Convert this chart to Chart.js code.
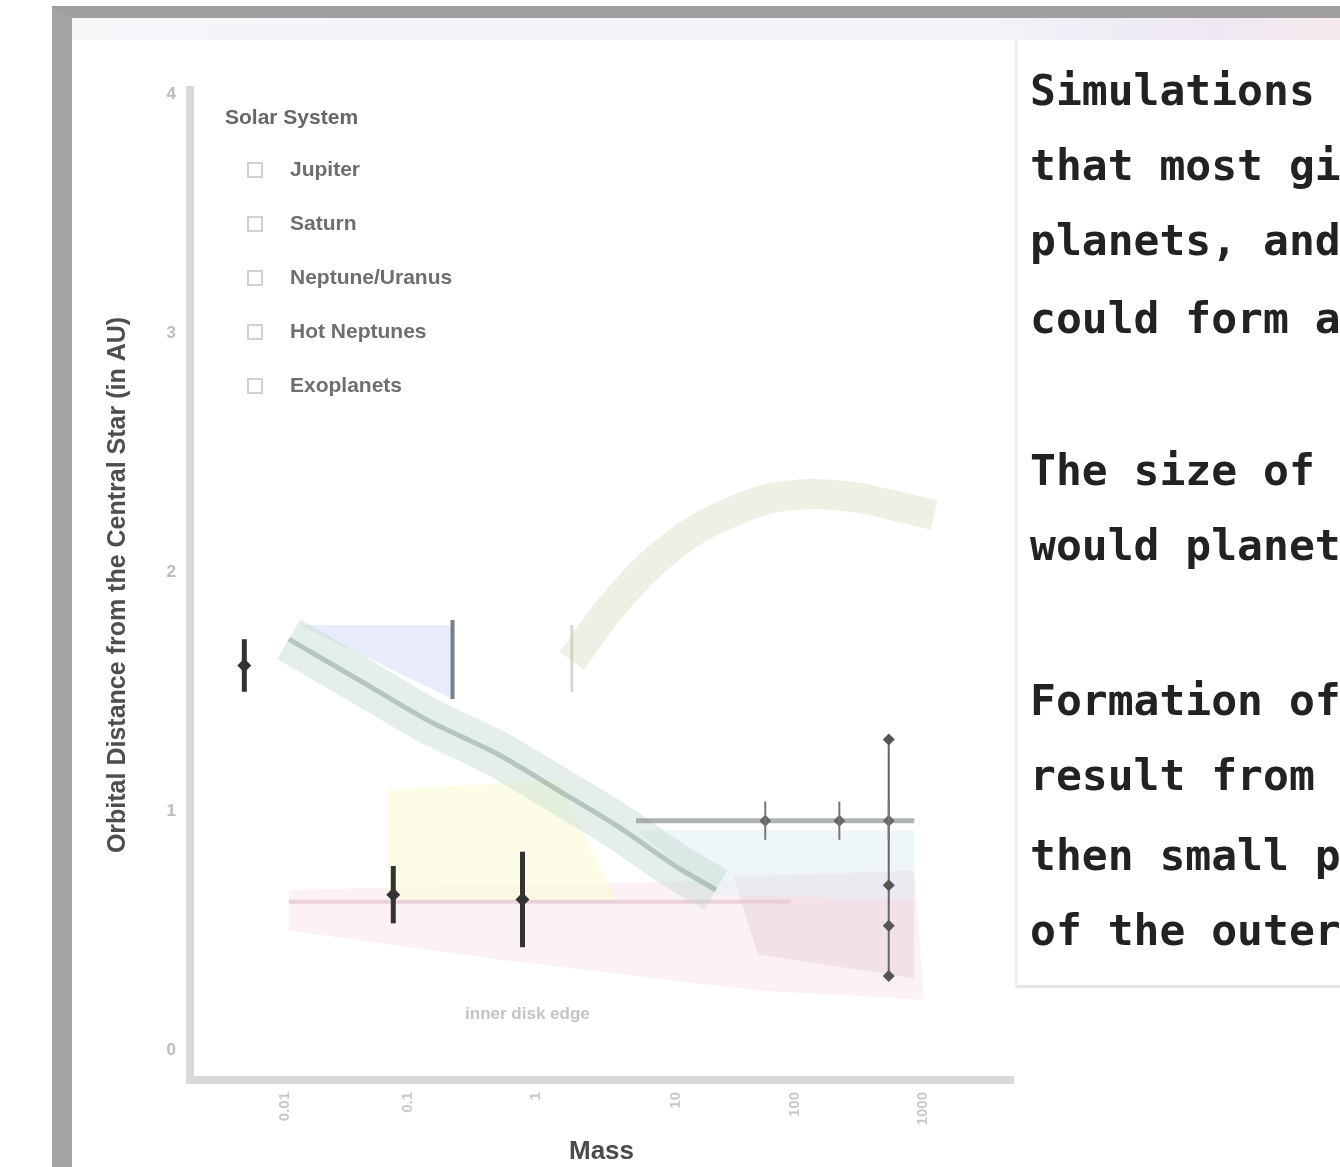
<!DOCTYPE html>
<html>
<head>
<meta charset="utf-8">
<script src="https://cdn.jsdelivr.net/npm/chart.js@4.4.0/dist/chart.umd.min.js"></script>
<style>
  body { margin: 0; width: 1340px; height: 1167px; overflow: hidden; background: #fff; position: relative; font-family: "Liberation Sans", sans-serif; }
  #frame { position: absolute; left: 52px; top: 6px; width: 1300px; height: 1200px; border-left: 20px solid #a3a3a3; border-top: 12px solid #9f9f9f; }
  #topband { position: absolute; left: 72px; top: 18px; width: 1270px; height: 22px; background: linear-gradient(to right, #f6f6f9, #f3f4f9 70%, #eee8f2 90%, #f5ebee); }
  #plot { position: absolute; left: 0; top: 0; }
  #notes { position: absolute; left: 1015px; top: 40px; width: 400px; height: 945px; border-left: 3px solid #efefef; border-bottom: 3px solid #e6e6e6; }
  #notes p { position: absolute; left: 12px; margin: 0; white-space: pre; font: bold 43px "DejaVu Sans Mono", monospace; color: #222; line-height: 50px; }
</style>
</head>
<body>
<div id="frame"></div>
<div id="topband"></div>
<canvas id="plot" width="1020" height="1167"></canvas>
<div id="notes"></div>
<script>
// axis ticks
const xTickValues = [1.15, 2.65, 4.2, 5.9, 7.35, 8.9];
const xTickLabels = ['0.01', '0.1', '1', '10', '100', '1000'];
const yTickValues = [0, 1, 2, 3, 4];
const yTickLabels = ['0', '1', '2', '3', '4'];

// legend
const legendTitle = 'Solar System';
const legendLabels = ['Jupiter', 'Saturn', 'Neptune/Uranus', 'Hot Neptunes', 'Exoplanets'];

// pale rising curve
const curveX = [4.64, 5.18, 5.90, 6.63, 7.23, 7.95, 8.55, 9.04];
const curveY = [1.63, 1.88, 2.12, 2.26, 2.32, 2.32, 2.28, 2.24];

// teal falling band
const bandX = [1.2, 2.05, 2.89, 3.73, 4.46, 5.18, 5.90, 6.39];
const bandY = [1.72, 1.55, 1.38, 1.24, 1.09, 0.94, 0.77, 0.67];

// blue triangle
const blueX = [1.33, 3.19, 3.19, 1.33];
const blueY = [1.78, 1.78, 1.47, 1.78];

// light blue box under the flat line
const iceX = [5.42, 8.80, 8.80, 6.39, 5.42];
const iceY = [0.92, 0.92, 0.63, 0.65, 0.92];

// yellow patch
const yellowX = [2.41, 4.46, 5.18, 2.41];
const yellowY = [1.09, 1.13, 0.63, 0.63];

// pink region
const pinkX = [1.2, 6.39, 8.8, 8.92, 6.87, 3.73, 1.2];
const pinkY = [0.67, 0.71, 0.75, 0.21, 0.25, 0.38, 0.50];
const pinkDarkX = [6.6, 8.8, 8.8, 6.9];
const pinkDarkY = [0.73, 0.75, 0.30, 0.40];

// flat line and its points
const flatX = [5.42, 8.80];
const flatY = [0.96, 0.96];
const flatPtsX = [6.99, 7.89, 8.49];
const flatPtsY = [0.96, 0.96, 0.96];

// vertical series at the right
const rightX = [8.49, 8.49, 8.49, 8.49];
const rightY = [1.30, 0.69, 0.52, 0.31];

// single measurements with errors
const ptX = [0.66, 2.47, 4.04];
const ptY = [1.61, 0.65, 0.63];
const ptErr = [0.11, 0.12, 0.20];

// annotation
const noteText = 'inner disk edge';
const noteX = 4.1;
const noteY = 0.13;

const textLines = [
  'Simulations s', 'that most gia', 'planets, and', 'could form a',
  '', 'The size of t', 'would planets',
  '', 'Formation of', 'result from a', 'then small pl', 'of the outer'
];
const textTops = [25, 100, 175, 253, 0, 405, 480, 0, 635, 710, 790, 865];

const notes = document.getElementById('notes');
textLines.forEach((t, i) => {
  if (!t) return;
  const p = document.createElement('p');
  p.textContent = t;
  p.style.top = textTops[i] + 'px';
  notes.appendChild(p);
});

function pts(xs, ys) { return xs.map((x, i) => ({ x: x, y: ys[i] })); }

const errorBars = {
  id: 'errorBars',
  afterDatasetsDraw(chart) {
    const ctx = chart.ctx, xs = chart.scales.x, ys = chart.scales.y;
    ctx.save();
    ctx.strokeStyle = '#333';
    ctx.lineWidth = 5;
    ptX.forEach((x, i) => {
      const px = xs.getPixelForValue(x);
      ctx.beginPath();
      ctx.moveTo(px, ys.getPixelForValue(ptY[i] - ptErr[i]));
      ctx.lineTo(px, ys.getPixelForValue(ptY[i] + ptErr[i]));
      ctx.stroke();
    });
    ctx.lineWidth = 2;
    ctx.strokeStyle = '#777';
    flatPtsX.forEach((x, i) => {
      const px = xs.getPixelForValue(x);
      ctx.beginPath();
      ctx.moveTo(px, ys.getPixelForValue(flatPtsY[i] - 0.08));
      ctx.lineTo(px, ys.getPixelForValue(flatPtsY[i] + 0.08));
      ctx.stroke();
    });
    ctx.fillStyle = '#c4c4c4';
    ctx.font = 'bold 17px "Liberation Sans"';
    ctx.textAlign = 'center';
    ctx.fillText(noteText, xs.getPixelForValue(noteX), ys.getPixelForValue(noteY));
    ctx.restore();
  }
};

const legendInside = {
  id: 'legendInside',
  afterDraw(chart) {
    const ctx = chart.ctx, a = chart.chartArea;
    ctx.save();
    ctx.textBaseline = 'middle';
    ctx.font = 'bold 21px "Liberation Sans"';
    ctx.fillStyle = '#666';
    ctx.fillText(legendTitle, a.left + 35, a.top + 28);
    legendLabels.forEach((t, i) => {
      const y = a.top + 80 + i * 54;
      ctx.strokeStyle = '#d0d0d0';
      ctx.lineWidth = 2;
      ctx.strokeRect(a.left + 58, y - 7, 14, 14);
      ctx.fillStyle = '#6e6e6e';
      ctx.fillText(t, a.left + 100, y);
    });
    ctx.restore();
  }
};

const datasets = [
  { data: pts(ptX, ptY), showLine: false, pointStyle: 'rectRot', pointRadius: 7, backgroundColor: '#333', borderWidth: 0 },
  { data: pts(rightX, rightY), showLine: true, borderColor: '#666', borderWidth: 2, pointStyle: 'rectRot', pointRadius: 6, pointBackgroundColor: '#555', pointBorderWidth: 0 },
  { data: pts(flatPtsX, flatPtsY), showLine: false, pointStyle: 'rectRot', pointRadius: 6, backgroundColor: '#666', borderWidth: 0 },
  { data: pts(flatX, flatY), showLine: true, borderColor: 'rgba(120,130,130,0.6)', borderWidth: 5, pointRadius: 0 },
  { data: [{ x: 3.19, y: 1.80 }, { x: 3.19, y: 1.47 }], showLine: true, borderColor: 'rgba(90,96,112,0.8)', borderWidth: 4, pointRadius: 0 },
  { data: pts(bandX, bandY), showLine: true, borderColor: 'rgba(130,160,150,0.5)', borderWidth: 5, pointRadius: 0, tension: 0.3 },
  { data: pts(bandX, bandY), showLine: true, borderColor: 'rgba(190,215,202,0.4)', borderWidth: 46, pointRadius: 0, tension: 0.3 },
  { data: [{ x: 4.64, y: 1.78 }, { x: 4.64, y: 1.50 }], showLine: true, borderColor: 'rgba(200,200,190,0.7)', borderWidth: 3, pointRadius: 0 },
  { data: pts(curveX, curveY), showLine: true, borderColor: 'rgba(228,228,212,0.6)', borderWidth: 30, pointRadius: 0, tension: 0.4 },
  { data: pts(blueX, blueY), showLine: true, borderWidth: 0, pointRadius: 0, fill: 'shape', backgroundColor: 'rgba(215,220,246,0.55)' },
  { data: pts(iceX, iceY), showLine: true, borderWidth: 0, pointRadius: 0, fill: 'shape', backgroundColor: 'rgba(228,240,245,0.6)' },
  { data: pts(yellowX, yellowY), showLine: true, borderWidth: 0, pointRadius: 0, fill: 'shape', backgroundColor: 'rgba(250,250,218,0.65)' },
  { data: pts(pinkDarkX, pinkDarkY), showLine: true, borderWidth: 0, pointRadius: 0, fill: 'shape', backgroundColor: 'rgba(230,205,216,0.45)' },
  { data: [{ x: 1.2, y: 0.62 }, { x: 7.3, y: 0.62 }], showLine: true, borderColor: 'rgba(222,185,198,0.6)', borderWidth: 4, pointRadius: 0 },
  { data: pts(pinkX, pinkY), showLine: true, borderWidth: 0, pointRadius: 0, fill: 'shape', backgroundColor: 'rgba(250,230,238,0.5)' }
];

new Chart(document.getElementById('plot'), {
  type: 'scatter',
  data: { datasets: datasets },
  options: {
    responsive: false,
    devicePixelRatio: 1,
    animation: false,
    layout: { padding: { left: 75, top: 90, right: 0, bottom: 0 } },
    plugins: { legend: { display: false }, tooltip: { enabled: false } },
    scales: {
      x: {
        type: 'linear', min: 0, max: 10,
        grid: { display: false, drawTicks: false },
        border: { color: '#d9d9d9', width: 8 },
        afterBuildTicks: s => { s.ticks = xTickValues.map(v => ({ value: v })); },
        afterFit: s => { s.height = 87; },
        ticks: {
          callback: (v, i) => xTickLabels[i],
          color: '#c8c8c8', font: { size: 15, weight: 'bold' },
          minRotation: 90, maxRotation: 90, padding: 12
        },
        title: { display: true, text: 'Mass', color: '#4a4a4a', font: { size: 26, weight: 'bold' }, padding: { top: 0, bottom: 0 } }
      },
      y: {
        type: 'linear', min: -0.126, max: 4.02,
        grid: { display: false, drawTicks: false },
        border: { color: '#d9d9d9', width: 8 },
        afterBuildTicks: s => { s.ticks = yTickValues.map(v => ({ value: v })); },
        afterFit: s => { s.width = 115; },
        ticks: {
          callback: (v, i) => yTickLabels[i],
          color: '#bcbcbc', font: { size: 17, weight: 'bold' }, padding: 14
        },
        title: { display: true, text: 'Orbital Distance from the Central Star (in AU)', color: '#4e4e4e', font: { size: 25, weight: 'bold' }, padding: { top: 28, bottom: 0 } }
      }
    }
  },
  plugins: [errorBars, legendInside]
});
</script>
</body>
</html>
